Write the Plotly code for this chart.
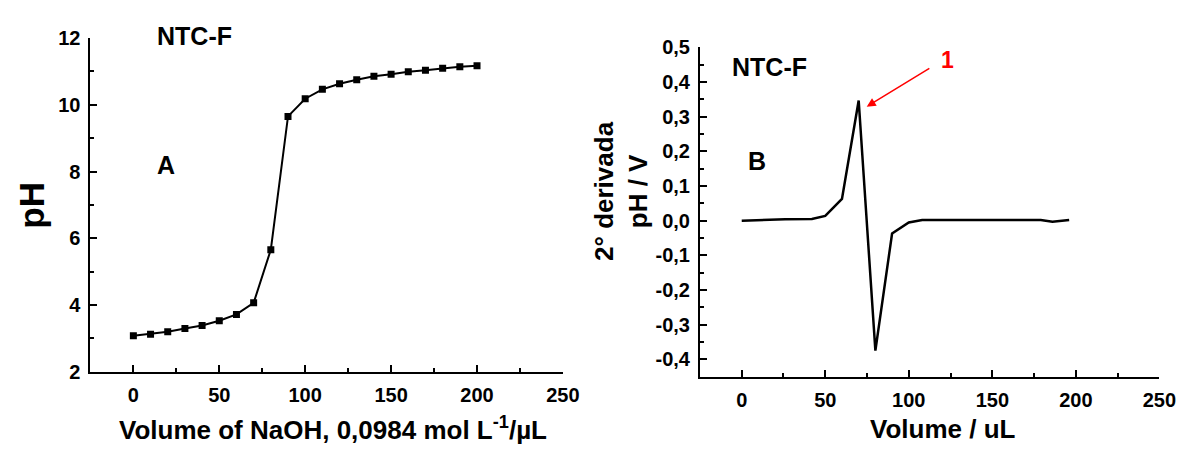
import plotly.graph_objects as go

# Panel A: titration curve
vol_a = [0, 10, 20, 30, 40, 50, 60, 70, 80, 90, 100, 110, 120, 130, 140, 150, 160, 170, 180, 190, 200]
ph_a = [3.08, 3.13, 3.20, 3.30, 3.39, 3.53, 3.72, 4.07, 5.66, 9.65, 10.18, 10.46, 10.63, 10.75,
        10.85, 10.91, 10.99, 11.03, 11.09, 11.14, 11.17]

# Panel B: second derivative
vol_b = [0, 10, 26, 42, 50, 60, 70, 80, 90, 100, 108, 130, 150, 170, 179, 186, 196]
d2_b = [0.0, 0.002, 0.004, 0.005, 0.014, 0.063, 0.347, -0.375, -0.037, -0.005, 0.002,
        0.002, 0.002, 0.002, 0.002, -0.003, 0.002]

x_ticks = [0, 50, 100, 150, 200, 250]
x_labels = ["0", "50", "100", "150", "200", "250"]
a_y_ticks = [2, 4, 6, 8, 10, 12]
a_y_labels = ["2", "4", "6", "8", "10", "12"]
b_y_ticks = [-0.4, -0.3, -0.2, -0.1, 0.0, 0.1, 0.2, 0.3, 0.4, 0.5]
b_y_labels = ["-0,4", "-0,3", "-0,2", "-0,1", "0,0", "0,1", "0,2", "0,3", "0,4", "0,5"]

FONT = "Arial, Liberation Sans, sans-serif"
W, H = 1203, 453


def bold(labels):
    return ["<b>" + s + "</b>" for s in labels]


fig = go.Figure()
fig.add_trace(go.Scatter(x=vol_a, y=ph_a, mode="lines+markers",
                         line=dict(color="black", width=2),
                         marker=dict(symbol="square", size=7, color="black"),
                         xaxis="x", yaxis="y", showlegend=False))
fig.add_trace(go.Scatter(x=vol_b, y=d2_b, mode="lines",
                         line=dict(color="black", width=2.5),
                         xaxis="x2", yaxis="y2", showlegend=False))

tickfont = dict(family=FONT, size=20, color="black", weight="bold")
common = dict(showline=True, linecolor="black", linewidth=2, mirror=False,
              showgrid=False, zeroline=False, ticks="inside", ticklen=7,
              tickwidth=2, tickcolor="black", tickfont=tickfont, ticklabelstandoff=4)
minor_common = dict(ticks="inside", ticklen=4, tickwidth=2, tickcolor="black")

fig.update_layout(
    width=W, height=H, margin=dict(l=0, r=0, t=0, b=0),
    paper_bgcolor="white", plot_bgcolor="white",
    xaxis=dict(domain=[91.7 / W, 571 / W], range=[-25, 250],
               tickvals=x_ticks, ticktext=bold(x_labels),
               minor=dict(dtick=25, tick0=0, **minor_common), anchor="y", **common),
    yaxis=dict(domain=[1 - 379.3 / H, 1 - 28.3 / H], range=[2, 12],
               tickvals=a_y_ticks, ticktext=bold(a_y_labels),
               minor=dict(dtick=1, tick0=0, **minor_common), anchor="x", **common),
    xaxis2=dict(domain=[710 / W, 1176 / W], range=[-25, 250],
                tickvals=x_ticks, ticktext=bold(x_labels),
                minor=dict(dtick=25, tick0=0, **minor_common), anchor="y2", **common),
    yaxis2=dict(domain=[1 - 384.3 / H, 1 - 38.3 / H], range=[-0.45, 0.5],
                tickvals=b_y_ticks, ticktext=bold(b_y_labels),
                minor=dict(dtick=0.05, tick0=0, **minor_common), anchor="x2", **common),
)


def txt(x, y, s, size, color="black", xref="paper", yref="paper", angle=0):
    fig.add_annotation(x=x, y=y, xref=xref, yref=yref, text="<b>" + s + "</b>", showarrow=False,
                       font=dict(family=FONT, size=size, color=color),
                       textangle=angle, xanchor="center", yanchor="middle")


# axis titles
txt(338 / W, 1 - 439 / H, "Volume of NaOH, 0,0984 mol L<sup>-1</sup>/µL", 26)
txt(32 / W, 1 - 204 / H, "pH", 35, angle=-90)
txt(957 / W, 1 - 439 / H, "Volume / uL", 26)
txt(630 / W, 1 - 189 / H, "2° derivada<br>pH / V", 26, angle=-90)

# panel labels
txt(197 / W, 1 - 26 / H, "NTC-F", 25)
txt(19.1, 8.18, "A", 25, xref="x", yref="y")
txt(16.7, 0.443, "NTC-F", 25, xref="x2", yref="y2")
txt(9.2, 0.171, "B", 25, xref="x2", yref="y2")
txt(122.9, 0.464, "1", 23, color="red", xref="x2", yref="y2")

# red arrow
fig.add_annotation(x=74.8, y=0.329, ax=113.2, ay=0.442, xref="x2", yref="y2",
                   axref="x2", ayref="y2", text="", showarrow=True,
                   arrowhead=2, arrowsize=1.2, arrowwidth=1.5, arrowcolor="red")

fig.write_html("out.html",
               post_script="document.body.style.margin='0';document.body.style.overflow='hidden';")
